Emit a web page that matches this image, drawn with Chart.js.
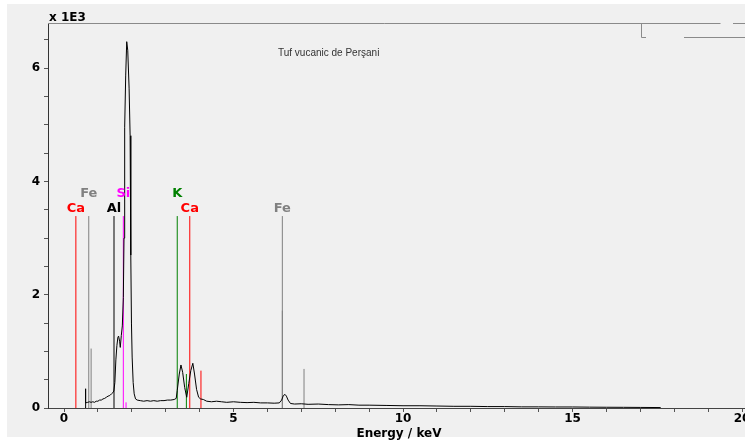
<!DOCTYPE html>
<html>
<head>
<meta charset="utf-8">
<script src="https://cdn.jsdelivr.net/npm/chart.js@4.4.1/dist/chart.umd.min.js"></script>
<style>
  html, body { margin: 0; padding: 0; background: #fff; overflow: hidden; width: 745px; height: 440px; }
  #panel { position: absolute; left: 7px; top: 4px; width: 738px; height: 433px; background: #f0f0f0; }
  #wrap { position: absolute; left: 0; top: 0; width: 780px; height: 440px; }
</style>
</head>
<body>
<div id="panel"></div>
<div id="wrap"><canvas id="c" width="780" height="440"></canvas></div>
<script>
/* EDX spectrum, "Tuf vucanic de Perşani" — counts in units of 1E3 */

const TITLE = "Tuf vucanic de Perşani";
const X_TITLE = "Energy / keV";
const Y_UNIT = "x 1E3";

const X_MIN = -0.472, X_MAX = 20.5;
const Y_MIN = 0, Y_MAX = 6.8;
const X_TICKS = [0, 1, 2, 3, 4, 5, 6, 7, 8, 9, 10, 11, 12, 13, 14, 15, 16, 17, 18, 19, 20];
const Y_TICKS = [0, 0.5, 1, 1.5, 2, 2.5, 3, 3.5, 4, 4.5, 5, 5.5, 6, 6.5];

// spectrum
const SPEC_KEV = [
  0.62, 0.63, 0.645, 0.70, 0.75, 0.80, 0.85, 0.90, 0.95, 1.00, 1.05, 1.10, 1.15, 1.20, 1.25, 1.30, 1.35, 1.40, 1.44, 1.47,
  1.50, 1.53, 1.56, 1.59, 1.61, 1.64, 1.66, 1.69, 1.72, 1.75, 1.77, 1.79, 1.82, 1.85, 1.88, 1.92, 1.95, 1.97, 1.99, 2.01,
  2.04, 2.07, 2.11, 2.16, 2.25, 2.35, 2.45, 2.55, 2.65, 2.75, 2.85, 2.95, 3.05, 3.15, 3.25, 3.31,
  3.34, 3.40, 3.45, 3.50, 3.56, 3.62, 3.68, 3.74, 3.80, 3.85, 3.91, 3.97, 4.03, 4.11, 4.21,
  4.35, 4.50, 4.65, 4.80, 5.00, 5.20, 5.40, 5.60, 5.80, 6.00, 6.20, 6.35,
  6.42, 6.47, 6.52, 6.56, 6.61, 6.68, 6.80, 7.00, 7.20, 7.50, 7.80, 8.10, 8.40, 8.70, 9.00, 9.50,
  10.0, 10.5, 11.0, 11.5, 12.0, 12.5, 13.0, 13.5, 14.0, 14.5, 15.0, 15.5, 16.0, 16.5, 17.0, 17.6
];
const SPEC_COUNTS = [
  0.00, 0.34, 0.09, 0.10, 0.11, 0.10, 0.11, 0.10, 0.12, 0.12, 0.14, 0.14, 0.16, 0.17, 0.19, 0.21, 0.22, 0.25, 0.27, 0.30,
  0.45, 0.85, 1.10, 1.25, 1.27, 1.18, 1.07, 1.28, 1.45, 1.95, 3.00, 4.96, 5.88, 6.47, 6.32, 5.65, 4.81, 2.70, 1.50, 0.90,
  0.45, 0.25, 0.16, 0.14, 0.13, 0.12, 0.13, 0.12, 0.13, 0.12, 0.13, 0.13, 0.14, 0.14, 0.15, 0.17,
  0.31, 0.60, 0.76, 0.63, 0.36, 0.19, 0.43, 0.66, 0.79, 0.60, 0.33, 0.19, 0.16, 0.15, 0.12,
  0.11, 0.12, 0.11, 0.10, 0.11, 0.10, 0.095, 0.10, 0.09, 0.09, 0.085, 0.09,
  0.14, 0.22, 0.24, 0.21, 0.14, 0.08, 0.07, 0.075, 0.065, 0.07, 0.06, 0.055, 0.06, 0.05, 0.05, 0.045,
  0.04, 0.04, 0.035, 0.03, 0.03, 0.025, 0.025, 0.02, 0.02, 0.018, 0.018, 0.015, 0.013, 0.012, 0.01, 0.008
];

// element marker lines: element, energy (keV), height (1E3)
const MARK_ELEMENT = ["Ca", "Fe", "Fe", "Al", "Si", "Si", "K", "K", "Ca", "Ca", "Fe", "Fe", "Fe"];
const MARK_KEV     = [0.35, 0.73, 0.80, 1.475, 1.75, 1.83, 3.34, 3.61, 3.71, 4.04, 6.44, 6.44, 7.08];
const MARK_HEIGHT  = [3.39, 3.39, 1.05, 3.39, 3.39, 0.10, 3.39, 0.60, 3.39, 0.66, 3.39, 1.72, 0.69];

// element labels above the main lines
const LABEL_TEXT = ["Ca", "Fe", "Al", "Si", "K", "Ca", "Fe"];
const LABEL_KEV  = [0.35, 0.73, 1.475, 1.75, 3.34, 3.71, 6.44];
const LABEL_TIER = [1, 0, 1, 0, 0, 1, 1]; // 0 = upper row, 1 = lower row
const LABEL_LINE_TOP = 3.39;

const COLORS = { Ca: "#ff0000", Fe: "#808080", Al: "#000000", Si: "#ff00ff", K: "#008000" };
const BOLD = "DejaVu Sans";

const spectrum = SPEC_KEV.map((x, i) => ({ x, y: SPEC_COUNTS[i] }));

function markerDatasets() {
  const groups = {};
  MARK_ELEMENT.forEach((el, i) => {
    (groups[el] = groups[el] || []).push({ x: MARK_KEV[i], y: 0 }, { x: MARK_KEV[i], y: MARK_HEIGHT[i] }, { x: MARK_KEV[i], y: null });
  });
  return Object.keys(groups).map(el => ({
    label: el, data: groups[el], borderColor: COLORS[el], borderWidth: 1,
    pointRadius: 0, spanGaps: false, tension: 0,
  }));
}

const decor = {
  id: "decor",
  afterDraw(chart) {
    const ctx = chart.ctx, xs = chart.scales.x, ys = chart.scales.y, a = chart.chartArea;
    ctx.save();
    // window frame lines along the top
    ctx.strokeStyle = "#8a8a8a";
    ctx.lineWidth = 1;
    ctx.beginPath();
    ctx.moveTo(a.left, 23.5); ctx.lineTo(720.5, 23.5);
    ctx.moveTo(733, 23.5); ctx.lineTo(746, 23.5);
    ctx.moveTo(641.5, 23.5); ctx.lineTo(641.5, 37.5); ctx.lineTo(646, 37.5);
    ctx.moveTo(684, 37.5); ctx.lineTo(746, 37.5);
    ctx.stroke();

    ctx.fillStyle = "#000";
    ctx.font = `bold 12px "${BOLD}"`;
    ctx.textAlign = "left"; ctx.textBaseline = "alphabetic";
    ctx.fillText(Y_UNIT, 49, 21);
    ctx.textAlign = "center";
    ctx.fillText(X_TITLE, 399, 436.5);

    ctx.fillStyle = "#333";
    ctx.font = '10px "Liberation Sans"';
    ctx.textAlign = "left";
    ctx.fillText(TITLE, 278, 56);

    ctx.font = `bold 13px "${BOLD}"`;
    ctx.textAlign = "center"; ctx.textBaseline = "middle";
    const top = ys.getPixelForValue(LABEL_LINE_TOP);
    LABEL_TEXT.forEach((t, i) => {
      ctx.fillStyle = COLORS[t];
      ctx.fillText(t, xs.getPixelForValue(LABEL_KEV[i]), top - (LABEL_TIER[i] ? 7.5 : 22));
    });
    ctx.restore();
  }
};

new Chart(document.getElementById("c"), {
  type: "line",
  data: {
    datasets: [
      { label: "spectrum", data: spectrum, borderColor: "#000", borderWidth: 1, pointRadius: 0, tension: 0 },
      ...markerDatasets(),
    ],
  },
  options: {
    responsive: false, animation: false, parsing: true,
    layout: { padding: { top: 23, right: 21, left: 0, bottom: 0 } },
    plugins: { legend: { display: false }, tooltip: { enabled: false } },
    scales: {
      x: {
        type: "linear", min: X_MIN, max: X_MAX,
        afterBuildTicks: s => { s.ticks = X_TICKS.map(v => ({ value: v })); },
        afterFit: s => { s.height = 32; },
        ticks: { autoSkip: false, maxRotation: 0, padding: 0, color: "#000",
          font: { family: BOLD, weight: "bold", size: 12 },
          callback: v => (v % 5 === 0 ? String(v) : "") },
        grid: { drawOnChartArea: false, drawTicks: true, tickLength: 4, color: "#555" },
        border: { color: "#444", width: 1 },
      },
      y: {
        type: "linear", min: Y_MIN, max: Y_MAX,
        afterBuildTicks: s => { s.ticks = Y_TICKS.map(v => ({ value: v })); },
        afterFit: s => { s.width = 48; },
        ticks: { autoSkip: false, padding: 4, color: "#000",
          font: { family: BOLD, weight: "bold", size: 12 },
          callback: v => (v % 2 === 0 ? String(v) : "") },
        grid: { drawOnChartArea: false, drawTicks: true, tickLength: 4, color: "#555" },
        border: { color: "#333", width: 1 },
      },
    },
  },
  plugins: [decor],
});
</script>
</body>
</html>
